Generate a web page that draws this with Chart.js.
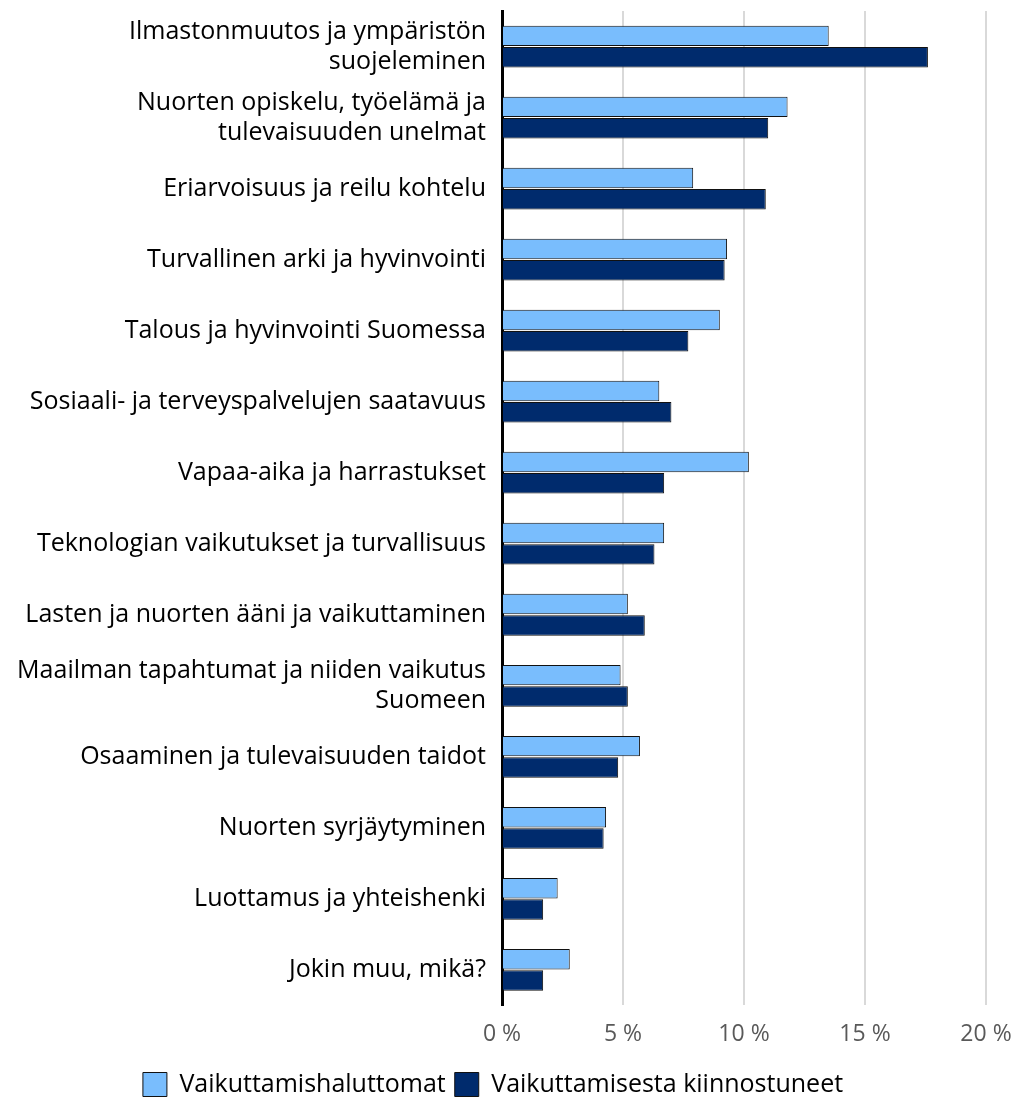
<!DOCTYPE html>
<html>
<head>
<meta charset="utf-8">
<script src="https://cdn.jsdelivr.net/npm/chart.js@4/dist/chart.umd.min.js"></script>
<style>
  html, body { margin: 0; padding: 0; background: #fff; }
  #wrap { width: 1017px; height: 1098px; }
</style>
</head>
<body>
<div id="wrap"><canvas id="chart"></canvas></div>
<script>
const categories = [
  ['Ilmastonmuutos ja ympäristön', 'suojeleminen'],
  ['Nuorten opiskelu, työelämä ja', 'tulevaisuuden unelmat'],
  'Eriarvoisuus ja reilu kohtelu',
  'Turvallinen arki ja hyvinvointi',
  'Talous ja hyvinvointi Suomessa',
  'Sosiaali- ja terveyspalvelujen saatavuus',
  'Vapaa-aika ja harrastukset',
  'Teknologian vaikutukset ja turvallisuus',
  'Lasten ja nuorten ääni ja vaikuttaminen',
  ['Maailman tapahtumat ja niiden vaikutus', 'Suomeen'],
  'Osaaminen ja tulevaisuuden taidot',
  'Nuorten syrjäytyminen',
  'Luottamus ja yhteishenki',
  'Jokin muu, mikä?'
]

const unwilling = [13.5, 11.8, 7.9, 9.3, 9.0, 6.5, 10.2, 6.7, 5.2, 4.9, 5.7, 4.3, 2.3, 2.8]
const interested = [17.6, 11.0, 10.9, 9.2, 7.7, 7.0, 6.7, 6.3, 5.9, 5.2, 4.8, 4.2, 1.7, 1.7]

const seriesNames = ['Vaikuttamishaluttomat', 'Vaikuttamisesta kiinnostuneet']
const xTicks = [0, 5, 10, 15, 20]

const font = "'Open Sans', 'Noto Sans', sans-serif"

new Chart(document.getElementById('chart'), {
  type: 'bar',
  data: {
    labels: categories,
    datasets: [
      {
        label: seriesNames[0],
        data: unwilling,
        backgroundColor: '#79bdfd',
        borderColor: '#111',
        borderWidth: 1,
        categoryPercentage: 0.6,
        barPercentage: 0.96,
      },
      {
        label: seriesNames[1],
        data: interested,
        backgroundColor: '#002b6d',
        borderColor: '#111',
        borderWidth: 1,
        categoryPercentage: 0.6,
        barPercentage: 0.96,
      },
    ],
  },
  options: {
    indexAxis: 'y',
    responsive: true,
    maintainAspectRatio: false,
    animation: false,
    layout: { padding: { top: 11, right: 31, left: 0, bottom: -9 } },
    plugins: {
      legend: {
        position: 'bottom',
        labels: {
          color: '#000',
          boxWidth: 24,
          boxHeight: 24,
          padding: 9,
          font: { family: font, size: 25 },
        },
      },
      tooltip: { enabled: false },
    },
    scales: {
      x: {
        min: 0,
        max: 20,
        afterBuildTicks: (axis) => {
          axis.ticks = xTicks.map((v) => ({ value: v }))
        },
        afterFit: (axis) => {
          axis.paddingLeft = 0
          axis.paddingRight = 0
        },
        border: { display: false },
        grid: { color: '#d9d9d9', lineWidth: 2, drawTicks: false },
        ticks: {
          color: '#595959',
          padding: 15,
          font: { family: font, size: 23 },
          callback: (v) => `${v} %`,
        },
      },
      y: {
        afterFit: (axis) => {
          axis.width = 502
          axis.paddingTop = 0
          axis.paddingBottom = 0
        },
        border: { color: '#000', width: 3 },
        grid: { display: false, drawTicks: false },
        ticks: {
          color: '#000',
          padding: 16,
          font: { family: font, size: 25, lineHeight: 1.2 },
          autoSkip: false,
        },
      },
    },
  },
})
</script>
</body>
</html>
